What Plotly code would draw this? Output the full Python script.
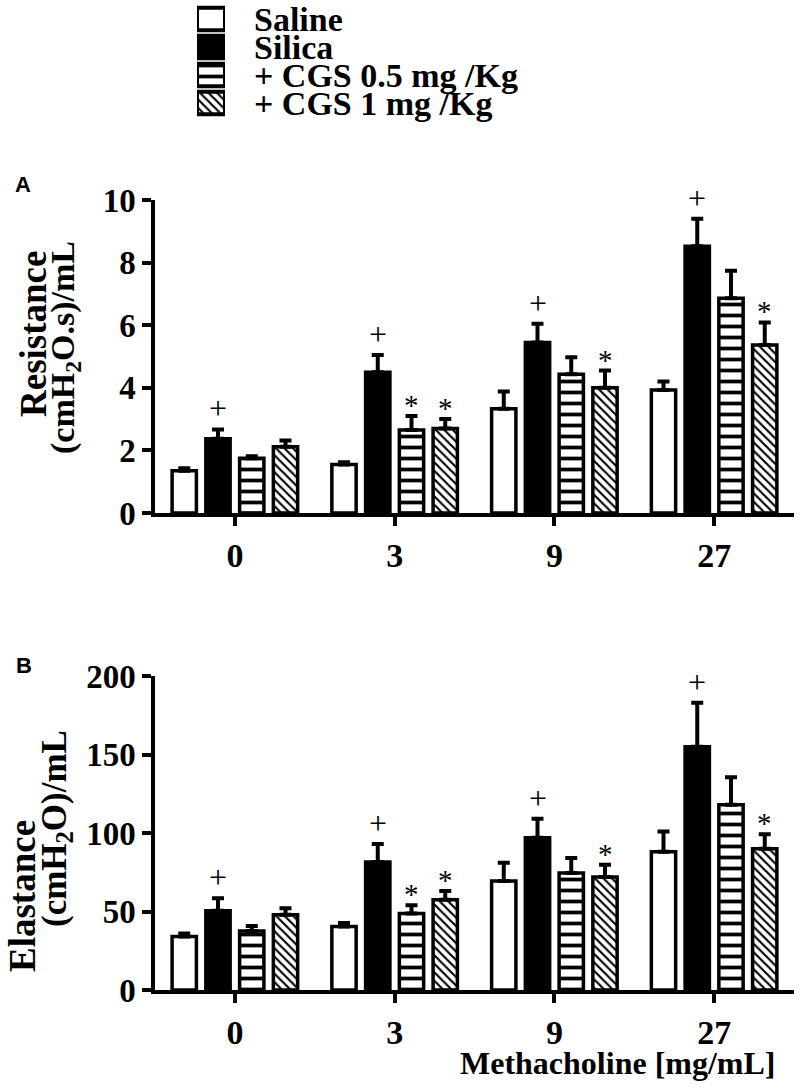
import plotly.graph_objects as go

# ---------------- data ----------------
doses = ["0", "3", "9", "27"]
series = ["Saline", "Silica", "+ CGS 0.5 mg /Kg", "+ CGS 1 mg /Kg"]

res_saline = [1.35, 1.55, 3.33, 3.93]
res_silica = [2.37, 4.50, 5.45, 8.52]
res_cgs05 = [1.75, 2.65, 4.43, 6.86]
res_cgs1 = [2.12, 2.70, 4.00, 5.37]
res_saline_err = [0.08, 0.07, 0.55, 0.27]
res_silica_err = [0.30, 0.55, 0.60, 0.88]
res_cgs05_err = [0.06, 0.45, 0.55, 0.88]
res_cgs1_err = [0.20, 0.30, 0.55, 0.72]

ela_saline = [34.0, 40.5, 69.5, 88.0]
ela_silica = [50.5, 81.5, 97.0, 155.0]
ela_cgs05 = [37.5, 48.8, 74.5, 118.0]
ela_cgs1 = [48.0, 57.5, 72.0, 90.0]
ela_saline_err = [2.0, 2.2, 11.5, 13.0]
ela_silica_err = [8.0, 11.5, 12.0, 28.0]
ela_cgs05_err = [3.3, 5.2, 9.5, 17.5]
ela_cgs1_err = [4.0, 5.6, 7.7, 9.2]

# significance marks per series (rows) and dose (columns)
res_marks = [["", "", "", ""], ["+", "+", "+", "+"], ["", "*", "", ""], ["", "*", "*", "*"]]
ela_marks = [["", "", "", ""], ["+", "+", "+", "+"], ["", "*", "", ""], ["", "*", "*", "*"]]

# ---------------- styles ----------------
W, H = 800, 1090
SERIF = "Liberation Serif"
fills = ["white", "black", "white", "white"]
shapes_ = ["", "", "-", "\\"]
psize = [8, 8, 11, 6]
psolid = [0.3, 0.3, 0.34, 0.36]
BARGAP = 0.155
BARGROUPGAP = 0.28
LW = 3.5

res_vals = [res_saline, res_silica, res_cgs05, res_cgs1]
res_errs = [res_saline_err, res_silica_err, res_cgs05_err, res_cgs1_err]
ela_vals = [ela_saline, ela_silica, ela_cgs05, ela_cgs1]
ela_errs = [ela_saline_err, ela_silica_err, ela_cgs05_err, ela_cgs1_err]

fig = go.Figure()


def add_panel(vals, errs, xa, ya):
    for j, name in enumerate(series):
        fig.add_trace(go.Bar(
            x=doses, y=vals[j], name=name, xaxis=xa, yaxis=ya,
            showlegend=False, hoverinfo="skip",
            marker=dict(color=fills[j], line=dict(color="black", width=LW),
                        pattern=dict(shape=shapes_[j], fgcolor="black",
                                     bgcolor=fills[j], size=psize[j],
                                     solidity=psolid[j], fillmode="replace")),
            error_y=dict(type="data", symmetric=False, array=errs[j],
                         arrayminus=[0] * len(doses), color="black",
                         thickness=4, width=6),
        ))


add_panel(res_vals, res_errs, "x", "y")
add_panel(ela_vals, ela_errs, "x2", "y2")

# legend drawn as a small bar chart (one bar per series, same offset group)
leg_psize = [8, 8, 11, 6]
for j, name in enumerate(series):
    fig.add_trace(go.Bar(
        y=[name], x=[1], orientation="h", xaxis="x3", yaxis="y3",
        width=0.8, showlegend=False, offsetgroup="legend", hoverinfo="skip",
        marker=dict(color=fills[j], line=dict(color="black", width=4),
                    pattern=dict(shape=shapes_[j], fgcolor="black", bgcolor=fills[j],
                                 size=leg_psize[j], solidity=psolid[j],
                                 fillmode="replace")),
    ))

annotations = []
slot = (1 - BARGAP) / len(series)


def add_marks(marks, vals, errs, xref, yref):
    for j in range(len(series)):
        for i in range(len(doses)):
            m = marks[j][i]
            if not m:
                continue
            xpos = i + (j - (len(series) - 1) / 2) * slot
            annotations.append(dict(
                x=xpos, y=vals[j][i] + errs[j][i], xref=xref, yref=yref,
                text=m, showarrow=False, xanchor="center", yanchor="middle",
                yshift=21 if m == "+" else 11,
                font=dict(family=SERIF, size=32 if m == "+" else 29, color="black"),
            ))


add_marks(res_marks, res_vals, res_errs, "x", "y")
add_marks(ela_marks, ela_vals, ela_errs, "x2", "y2")


def px(x):
    return x / W


def py(y):
    return 1 - y / H


for txt, x, y, s in [("Resistance", 33, 334, 37), ("(cmH<sub>2</sub>O.s)/mL", 65, 348, 34),
                     ("Elastance", 22, 896, 37), ("(cmH<sub>2</sub>O)/mL", 56, 829, 35)]:
    annotations.append(dict(text=txt, x=px(x), y=py(y), xref="paper", yref="paper",
                            showarrow=False, textangle=-90, xanchor="center",
                            yanchor="middle",
                            font=dict(family=SERIF, size=s, color="black", weight="bold")))

for txt, x, y in [("A", 23, 185), ("B", 24, 665)]:
    annotations.append(dict(text=txt, x=px(x), y=py(y), xref="paper", yref="paper",
                            showarrow=False, xanchor="center", yanchor="middle",
                            font=dict(family="Liberation Sans", size=22,
                                      color="black", weight="bold")))

annotations.append(dict(text="Methacholine [mg/mL]", x=px(778), y=py(1063),
                        xref="paper", yref="paper", showarrow=False,
                        xanchor="right", yanchor="middle",
                        font=dict(family=SERIF, size=32, color="black", weight="bold")))

xtickfont = dict(family=SERIF, size=34, color="black", weight="bold")
ytickfont = dict(family=SERIF, size=33, color="black", weight="bold")
xcommon = dict(type="category", showline=True, linecolor="black", linewidth=LW,
               ticks="outside", ticklen=9, tickwidth=LW, tickcolor="black",
               tickfont=xtickfont, showgrid=False, zeroline=False, automargin=False,
               range=[-0.5, 3.5], fixedrange=True)
ycommon = dict(showline=True, linecolor="black", linewidth=LW,
               ticks="outside", ticklen=9, tickwidth=LW, tickcolor="black",
               tickfont=ytickfont, showgrid=False, zeroline=False, automargin=False,
               fixedrange=True)

xdom = [px(155), px(794)]
fig.update_layout(
    width=W, height=H, margin=dict(l=0, r=0, t=0, b=0, autoexpand=False),
    paper_bgcolor="white", plot_bgcolor="white",
    barmode="group", bargap=BARGAP, bargroupgap=BARGROUPGAP,
    showlegend=False, hovermode=False,
    xaxis=dict(domain=xdom, anchor="y", **xcommon),
    yaxis=dict(domain=[py(513), py(200)], anchor="x", range=[0, 10], dtick=2, **ycommon),
    xaxis2=dict(domain=xdom, anchor="y2", **xcommon),
    yaxis2=dict(domain=[py(990), py(676)], anchor="x2", range=[0, 200], dtick=50, **ycommon),
    xaxis3=dict(domain=[px(197), px(225)], anchor="y3", range=[0, 1], visible=False,
                automargin=False, fixedrange=True),
    yaxis3=dict(domain=[py(117), py(5)], anchor="x3", type="category",
                categoryorder="array", categoryarray=series,
                tickmode="array", tickvals=series, ticktext=series,
                range=[3.5, -0.5], side="right", showline=False, ticks="",
                showgrid=False, zeroline=False, ticklabelstandoff=28, fixedrange=True,
                automargin=False,
                tickfont=dict(family=SERIF, size=34, color="black", weight="bold")),
    annotations=annotations,
)

fig.write_html("out.html", config={"displayModeBar": False},
               post_script="document.body.style.margin='0';")
